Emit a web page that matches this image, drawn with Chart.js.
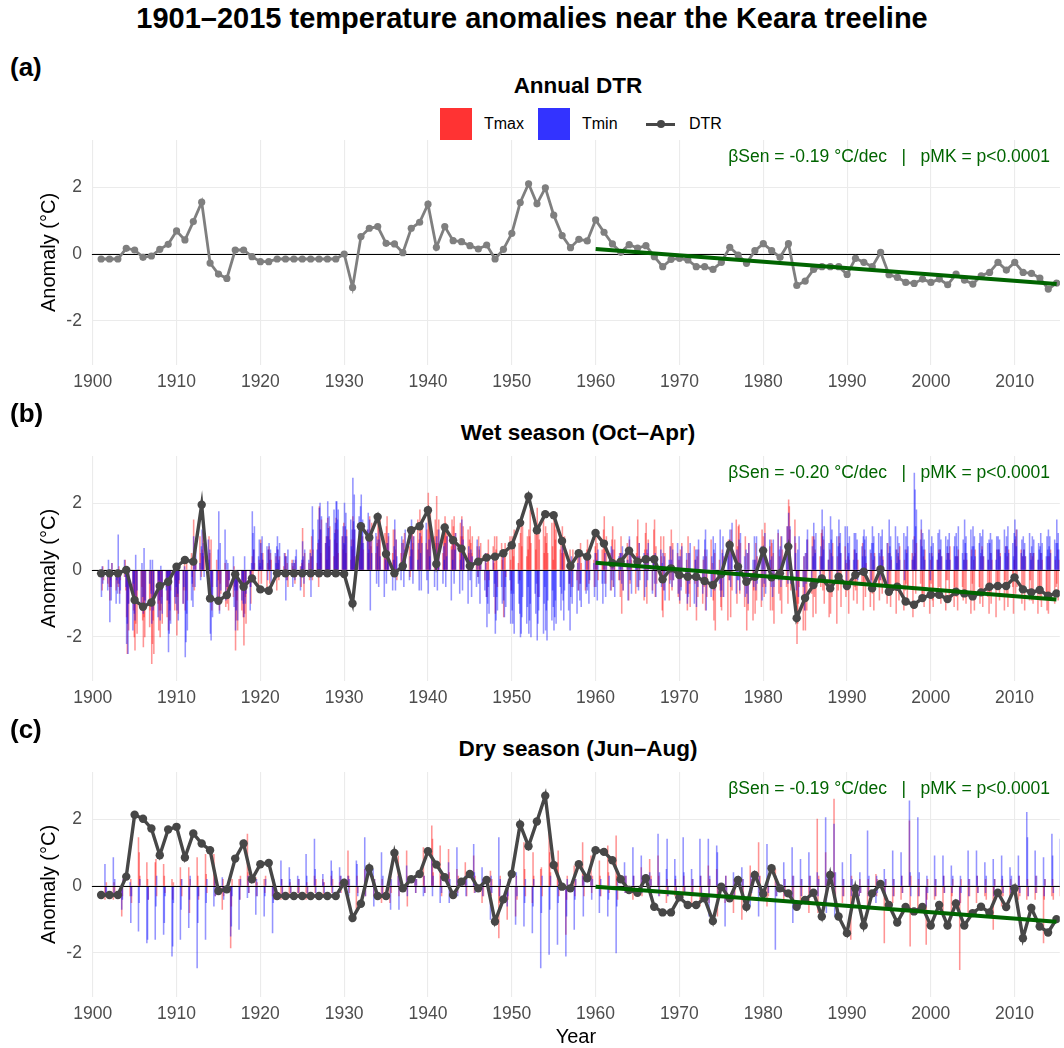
<!DOCTYPE html>
<html>
<head>
<meta charset="utf-8">
<script src="https://cdn.jsdelivr.net/npm/chart.js@4.4.1/dist/chart.umd.min.js"></script>
<style>
body { margin: 0; width: 1064px; height: 1048px; overflow: hidden; background: #fff; position: relative;
  font-family: "Liberation Sans", Arial, Helvetica, sans-serif; }
.t { position: absolute; white-space: nowrap; line-height: 1; color: #000; }
.c { transform: translateX(-50%); }
.b { font-weight: bold; }
canvas { position: absolute; left: 0; }
.key { position: absolute; }
</style>
</head>
<body>
<div class="t b c" style="left:532px;top:4px;font-size:29px">1901–2015 temperature anomalies near the Keara treeline</div>

<div class="t b" style="left:10px;top:54px;font-size:26px">(a)</div>
<div class="t b c" style="left:578px;top:75px;font-size:22.5px">Annual DTR</div>
<div class="key" style="left:440px;top:108px;width:32px;height:32px;background:#FF3333"></div>
<div class="t" style="left:484px;top:116px;font-size:16px">Tmax</div>
<div class="key" style="left:538px;top:108px;width:32px;height:32px;background:#3333FF"></div>
<div class="t" style="left:582px;top:116px;font-size:16px">Tmin</div>
<div class="key" style="left:646px;top:122.5px;width:29px;height:3px;background:#474747"></div>
<div class="key" style="left:656.5px;top:120px;width:8px;height:8px;border-radius:50%;background:#474747"></div>
<div class="t" style="left:689px;top:116px;font-size:16px">DTR</div>
<canvas id="chartA" width="1064" height="270" style="top:130px"></canvas>

<div class="t b" style="left:10px;top:400px;font-size:26px">(b)</div>
<div class="t b c" style="left:578px;top:422px;font-size:22.5px">Wet season (Oct–Apr)</div>
<canvas id="chartB" width="1064" height="270" style="top:446px"></canvas>

<div class="t b" style="left:10px;top:716px;font-size:26px">(c)</div>
<div class="t b c" style="left:578px;top:738px;font-size:22.5px">Dry season (Jun–Aug)</div>
<canvas id="chartC" width="1064" height="300" style="top:762px"></canvas>

<script>
// years of the record
const years = [1901,1902,1903,1904,1905,1906,1907,1908,1909,1910,
  1911,1912,1913,1914,1915,1916,1917,1918,1919,1920,
  1921,1922,1923,1924,1925,1926,1927,1928,1929,1930,
  1931,1932,1933,1934,1935,1936,1937,1938,1939,1940,
  1941,1942,1943,1944,1945,1946,1947,1948,1949,1950,
  1951,1952,1953,1954,1955,1956,1957,1958,1959,1960,
  1961,1962,1963,1964,1965,1966,1967,1968,1969,1970,
  1971,1972,1973,1974,1975,1976,1977,1978,1979,1980,
  1981,1982,1983,1984,1985,1986,1987,1988,1989,1990,
  1991,1992,1993,1994,1995,1996,1997,1998,1999,2000,
  2001,2002,2003,2004,2005,2006,2007,2008,2009,2010,
  2011,2012,2013,2014,2015];

const wetMonths = [1, 2, 3, 4, 10, 11, 12];
const dryMonths = [6, 7, 8];

const xTicks = [1900, 1910, 1920, 1930, 1940, 1950, 1960, 1970, 1980, 1990, 2000, 2010];
const yTicks = [-2, 0, 2];

// DTR anomalies (°C)
const annualDtr = [-.15,-.15,-.15,.17,.12,-.1,-.06,.14,.29,.69,
  .42,.97,1.55,-.27,-.6,-.73,.12,.12,-.08,-.23,
  -.23,-.15,-.15,-.15,-.15,-.15,-.15,-.15,-.15,0,
  -1,.52,.77,.82,.32,.3,.04,.77,.95,1.49,
  .2,.82,.4,.37,.25,.15,.27,-.15,.14,.62,
  1.54,2.1,1.5,1.98,1.16,.55,.19,.44,.39,1.02,
  .65,.3,.05,.28,.18,.25,-.08,-.38,-.16,-.13,
  -.18,-.38,-.38,-.46,-.25,.2,-.03,-.28,.1,.31,
  .1,-.1,.31,-.94,-.81,-.46,-.38,-.38,-.38,-.61,
  -.13,-.25,-.38,.05,-.62,-.7,-.85,-.88,-.75,-.85,
  -.75,-.92,-.6,-.78,-.9,-.65,-.55,-.25,-.48,-.25,
  -.55,-.58,-.72,-1.05,-.87];

const wetDtr = [-.1,-.1,-.1,0,-.9,-1.1,-.97,-.48,-.35,.1,
  .3,.25,1.95,-.85,-.92,-.75,-.13,-.5,-.25,-.58,
  -.62,-.1,-.1,-.1,-.1,-.1,-.1,-.1,-.1,-.12,
  -1,1.31,.97,1.59,.48,-.1,.12,1.19,1.31,1.79,
  .18,1.27,.89,.64,.12,.25,.37,.4,.5,.74,
  1.41,2.2,1.19,1.67,1.64,.87,.12,.5,.4,1.11,
  .79,.2,.25,.58,.25,.32,.32,-.28,.05,-.15,
  -.2,-.2,-.33,-.45,-.12,.75,.1,-.35,-.2,.58,
  -.22,-.1,.7,-1.44,-.84,-.45,-.25,-.55,-.2,-.48,
  -.15,-.05,-.55,.02,-.65,-.5,-.94,-1.04,-.84,-.74,
  -.74,-.87,-.65,-.7,-.79,-.67,-.5,-.48,-.48,-.22,
  -.58,-.67,-.6,-.77,-.7];

const dryDtr = [-.27,-.27,-.27,.28,2.13,2.01,1.72,.92,1.69,1.77,
  .85,1.57,1.27,1.07,-.15,-.1,.82,1.27,.2,.65,
  .69,-.3,-.3,-.3,-.3,-.3,-.3,-.3,-.3,.1,
  -.96,-.53,.53,-.3,-.3,.99,-.07,.2,.36,1.04,
  .64,.26,-.27,.13,.36,-.07,.18,-1.06,-.4,.36,
  1.84,1.19,1.93,2.7,.63,-.02,-.07,.65,.23,1.07,
  1.02,.77,.2,-.12,-.2,.23,-.62,-.79,-.79,-.34,
  -.57,-.57,-.37,-1.05,-.02,-.37,.18,-.62,.33,-.24,
  .53,-.07,-.22,-.62,-.42,-.2,-.91,.33,-.91,-1.41,
  -.07,-1.18,-.22,.06,-.57,-1.09,-.63,-.76,-.63,-1.18,
  -.57,-1.18,-.52,-1.18,-.81,-.62,-.79,-.2,-.63,-.07,
  -1.56,-.66,-1.21,-1.39,-.99];

// Sen slope trend lines, 1960-2015
const trendYears = [1960, 2015];
const annualTrend = [0.15, -0.90];
const wetTrend = [0.22, -0.88];
const dryTrend = [-0.02, -1.07];

const annualSen = 'βSen = -0.19 °C/dec   |   pMK = p<0.0001';
const wetSen = 'βSen = -0.20 °C/dec   |   pMK = p<0.0001';
const drySen = 'βSen = -0.19 °C/dec   |   pMK = p<0.0001';

// monthly anomalies, one row per year (months as in wetMonths / dryMonths)
const wetTmax = [
  [-.2,-.6,.1,-.3,-.4,-.1,-.5],[-.9,-.3,-.5,.2,-.6,-.2,-.4],[-.5,.1,-.7,-.3,-.2,.3,-.6],[-1.4,-2.5,-1,-1.8,-.6,-1.2,-2],[-2.4,-1.6,-.8,-1.9,-1.1,-.5,-1.5],[-2.3,-1.4,-2,-.9,-1.7,-1.2,-.6],[-2.8,-2.2,-1.5,-2.5,-1,-1.8,-1.2],[-2,-1.2,-.8,-1.6,-.5,-1.4,-.9],[-1.8,-1,-1.5,-.6,-1.2,-.3,-.8],[-1.95,-.8,-1.3,-.4,-1,-.6,.2],
  [-1.2,-.6,.3,-.9,.5,-.2,-.5],[1.5,-.6,.8,.3,1,.5,-.2],[.6,1.15,.4,.9,.2,1,.5],[-.8,.9,-1.2,-.5,.3,-1,-.3],[-.9,-1.2,-.4,-.7,.2,-1.1,-.5],[-1,-.6,-1.2,-.3,-.8,.1,-.5],[-2.4,-1.5,-.9,-1.8,-1.2,-.6,-1.4],[-2.25,-1.3,-.8,-1.6,-.5,-1,-.3],[.4,-.3,.6,.2,-.5,.3,.1],[.9,-.4,.3,.5,-.6,.2,.6],
  [.7,-.4,.5,.3,-.2,.4,-.6],[.6,.2,-.3,.4,.1,-.2,.5],[.4,-.3,.2,-.5,.3,.1,-.2],[.2,-.4,.3,-.2,.1,-.5,.2],[1.25,.3,-.8,.5,.2,-.3,.6],[.4,1,-.3,.6,.2,.8,-.5],[1.9,1.2,.5,1.5,.8,1,.3],[1.55,1,.7,1.3,.4,.9,1.2],[1.55,.8,1.2,.5,1,.6,1.4],[.75,1,.5,1.2,.3,.9,.6],
  [1.6,.9,1.2,.4,1,.7,1.3],[1.35,.8,1,.6,1.2,.5,.9],[1.6,1.2,.7,1.4,.5,1,.8],[1.6,1.3,.9,1.5,.6,1.1,.4],[1.3,1.6,.8,1,.5,1.2,.3],[1.2,.6,.9,-.3,.5,.8,.2],[.9,.5,1.1,.3,.7,-.2,.6],[1.3,1.2,.8,1,1.5,.6,.9],[1.8,1.3,1,1.5,.8,1.2,.6],[2.3,1.9,1.4,1.7,1,1.5,.8],
  [2.2,1.2,.8,1.5,.5,1,1.3],[1.6,1.4,1,1.2,.7,1.5,.9],[1.3,1.6,.8,1.1,.6,1.4,1],[1.6,1,1.3,.7,1.2,.5,.9],[1.3,.8,.5,1,.3,.7,-.2],[1,.6,.3,.8,-.3,.5,.2],[-.8,.5,.9,-.3,.7,.2,1],[-1.3,.6,1,-.5,.8,.3,.5],[-1.4,.5,.8,-.2,1,.3,-.6],[1,.6,.4,1.2,.2,.8,-.3],
  [1.1,1.5,.7,1.3,.4,1,.6],[1.2,1,1.8,.8,1.5,.6,1.1],[1.85,-.8,1.3,.9,1.5,.5,1],[1.3,.8,1.1,.5,1.4,.7,.3],[1.6,1.4,.9,1.2,.6,1,.5],[1.3,.8,.5,1,.3,-.4,.6],[.3,-.5,.2,.6,-.3,.4,-.6],[.5,-.4,.8,.2,-.6,.3,.6],[.9,.6,-.4,.5,.3,-.5,.7],[1,.5,.8,-.3,.6,.2,1.2],
  [1.6,.7,-.4,1,.5,-.6,.9],[1.3,-.5,.6,.9,-.3,.5,-.8],[1,-1.3,.5,-.6,.8,.3,-.9],[.9,-.4,.6,.3,-.7,.5,1],[1.5,-.5,.8,.4,-.9,.6,1.1],[1.4,-1,.5,.9,-.6,.3,1.2],[1.5,-.8,.7,-.4,1,.4,-1.2],[-1.4,1,-.6,.5,-.9,.7,-.3],[1.2,-.6,.8,-.3,.5,-.8,.3],[-1,.6,-.5,.8,-.7,.3,-1.2],
  [1,-.7,.5,-1.1,.7,-.4,.3],[-1.5,.4,-.8,.6,-1,.3,-.5],[.6,-1.2,.4,-.8,.9,-.5,.2],[-.9,-1.5,.5,-1.8,.3,-.6,-1.1],[-1.2,.6,-.8,.4,-1.5,.9,-.3],[.9,-1.4,1.2,-.6,1.5,-1,.7],[1.3,1.35,-.7,.8,-1.1,1,-.4],[-1.8,.5,-1.2,.8,-1.5,-.6,.3],[-1.3,.8,-.9,.4,-1.1,1.2,-.5],[1,-.8,1.4,-.5,.7,-1.2,.9],
  [.8,-1.2,.5,-1.6,1.1,-.7,.4],[-.9,1,-1.3,.6,-.5,1.3,-1],[2.1,1.9,1.2,-.6,1.5,.8,-1],[-2.2,-1.6,-1,-.5,-1.8,.4,-1.2],[-1.8,.5,-1.2,.9,-.7,1,-1.4],[1,-.8,.6,-1.3,.4,-.5,1.1],[1.2,-.6,.9,-1,.3,-1.4,.6],[-1.3,.5,-.8,.8,-1.6,.4,-.6],[1,-.4,.5,-1.1,.7,-.8,.2],[-.6,.4,-1.3,.3,-.9,.6,-.5],
  [-.6,.5,-1,.3,-.4,.8,-1.2],[-.4,.6,-.8,.2,-1.1,.5,-.3],[-.7,.3,-1.2,.5,-.5,-.9,.4],[-.3,.6,-.7,.4,-1,.8,-.5],[-.7,.5,-1.1,.3,-.6,-1.3,.6],[-.5,.4,-.9,.7,-1.2,.3,-.6],[-.4,.6,-1,-.5,.5,-1.4,.3],[1,.5,-.7,.8,-.4,1.2,-.9],[-.7,.4,-1.1,.6,-.5,-1.3,.3],[-.4,.5,-.9,-1.1,.3,-.6,.6],
  [-.5,.6,-1,.4,-1.2,-.3,.5],[-.3,.5,-.8,.7,-1.1,-.5,.4],[-.8,.4,-1.2,.6,-.5,-.9,.3],[-.6,.5,-1,.3,-1.3,.6,-.4],[-.8,.3,-1.2,.6,-.5,-1,.4],[-.6,.7,-1.1,.4,-.8,.3,-1.3],[-.7,.5,-1,.3,-1.4,.6,-.4],[-.4,.6,-.9,.5,-1.2,-.3,.7],[-.8,.4,-1.1,.6,-.5,-1.3,.3],[.9,-.7,1.2,-.5,.6,-1,.4],
  [-.5,.6,-1.2,.4,-.9,-.3,.5],[-.9,.4,-1,.5,-1.3,.3,-.6],[-.9,.5,-1.1,.3,-.7,-1.2,.4],[-1.3,.4,-.8,.6,-1,.3,-.5],[-.4,.6,-.9,.3,-1.1,.5,-.6]
];

const wetTmin = [
  [-.8,.1,-.4,-.2,-.6,.3,-.1],[-1.55,-.5,-.9,.2,-1,-.3,-.7],[1.05,-.4,-1,-.6,.3,-.2,-.5],[-2.2,-1.6,-2.5,-1,-1.8,-.4,-1.3],[-1.5,.45,-1,-.6,-1.2,.2,-.8],[-1.3,.65,-.9,-1.1,-.4,.3,-.7],[-1.6,.3,-1.2,-.8,-1.4,-.3,-.9],[-1.5,.12,-1,-1.3,-.6,-.9,-.4],[-2.45,-1.9,-1.2,-1.6,-.8,-1,-.5],[-1.2,-.7,-1.5,-.3,-1,-.5,.1],
  [-2.6,-2.15,-1.3,-1.8,-.9,-.4,-1.1],[1,.4,-.5,.6,.2,-.3,.7],[1.2,.5,.8,-.2,.9,.3,.6],[-1.9,-2.1,-.8,-1.4,-.5,-1,.6],[1.75,-1.3,.8,-.6,1.2,-.9,.3],[-.5,.2,-.8,-.3,.4,-1.1,-.6],[-1.8,-1.2,-.6,-1.5,-.9,-.3,-1],[-1.4,.4,-1,-.7,-1.2,-.5,.2],[1.75,1.1,.6,1.3,.4,.9,.2],[.8,.5,1,.3,.7,-.3,.6],
  [.8,.3,.6,-.4,.5,.2,.7],[1,.6,.3,.8,-.2,.5,.4],[-.9,.4,-.3,.6,.2,-.5,.3],[.2,-.3,.4,.6,-.6,.1,.3],[.85,.4,-.4,.6,.3,-.2,.5],[-.8,.4,1.9,1.2,.6,1.5,.9],[1.85,2,1.2,1.6,.8,1.4,1],[2.05,1.25,1.6,.9,1.8,1.1,1.4],[2.05,2.05,1.5,1.8,1,1.3,.8],[2,1.3,1.7,1,1.5,.7,1.2],
  [2.75,1.45,2.25,1.2,1.6,.9,1.9],[2.25,1.4,1.5,.8,1.2,1.7,.6],[1.5,-1.2,.9,.5,1.1,-.4,.7],[.9,-.5,1.2,.4,-.8,.6,.3],[-.4,.8,.5,1.1,-.6,.3,.7],[1.5,-.6,.9,.4,-.3,1,.2],[.8,-.5,.6,1.2,-.3,.4,.9],[1.5,.6,-.4,1,.3,.8,-.6],[1.1,.5,-.6,.8,1.4,-.3,.6],[-.7,.9,.4,1.3,-.5,.6,.2],
  [1,-.6,.5,1.2,-.4,.7,.3],[.8,-.5,.4,1,-.9,.6,.3],[.8,-.4,.6,1.1,-.7,.3,.5],[1.5,-.6,.9,.4,-1,.7,.3],[-.3,.6,-.8,.4,-.5,.9,-.2],[-.4,.7,-1,.3,-.6,.5,-.8],[-1.7,-1,-.5,-1.3,.3,-.8,-.4],[-1.9,-1.5,-.8,-1.2,-.5,-1,.4],[-.9,-1.4,-.5,-1.1,-.3,-1.6,-.7],[-1.2,-1.6,-.7,-1.9,-.4,-1,-1.3],
  [-2,-1.9,-1.4,-.8,-1.6,-1.1,-.5],[-1.9,-1.5,-1,-2,-.7,-1.3,-.4],[-2.1,-1.6,-1.2,-.8,-1.9,-1,-.5],[-1.8,-1.2,-2.1,-.9,-1.5,-.6,-1.1],[-1.8,-1.4,-.9,-1.6,-.5,-1.2,-.7],[.7,-.9,-1.5,-.6,-1.2,-.4,-1.8],[-.8,.4,-1,-.5,-1.3,.2,-.6],[.5,-.9,-.4,-1.1,.3,-.7,-.5],[-.6,.4,-1,-.3,.2,-.8,.5],[-.5,.3,-.9,.6,-.4,-1,.2],
  [-.4,.5,-.8,.2,-.6,.7,-.3],[.6,-.5,.3,-.8,.4,-.3,.5],[.5,-.4,.7,-.6,.3,-.9,.2],[1,-.3,.6,-.7,.4,.2,-.5],[.4,-.6,.8,-.3,.5,-.8,.2],[-.5,.6,-.3,.8,-.7,.4,.3],[-.4,.5,-.8,.3,.6,-.5,.2],[.5,-.6,.4,-.9,.3,-.4,.7],[.3,-.5,.6,-.3,.8,-.7,.4],[-.9,.4,-.6,.7,-.3,.5,-1],
  [-.8,.5,-.4,.8,-1,.3,.6],[-1.1,.6,-.5,.9,-.7,.4,-.3],[.9,1.2,-1.2,.6,-.8,.4,-.5],[1,.6,-.6,.8,-.4,1.2,-.8],[-.6,.5,1,-.8,.4,.7,-.3],[1.2,-.5,.8,1.4,-.7,.6,-.3],[-.3,.9,-.6,1.1,.4,-.8,.6],[-.7,.5,-1,.8,.3,-.5,1],[.3,-.6,1,-.4,.7,-.9,.5],[.6,-.4,1.1,-.7,.9,.3,-.5],
  [.4,-.8,.9,-.5,1.2,-.3,.6],[.7,-.5,1,-.3,.6,1.3,-.4],[1.7,.8,1.3,-.4,1,.5,-.6],[-.3,.6,-.8,1,-.5,.4,-1.2],[.5,-.4,.9,1.2,-.3,.7,.4],[1.4,.9,.5,1.1,-.3,.7,.4],[1.8,1,.6,1.3,.3,.8,-.4],[1.6,.9,1.2,.4,1,-.3,.7],[1.5,.8,1.1,.5,1.3,.3,-.5],[1.3,.8,.5,1,.3,1.1,.6],
  [1.1,.5,.9,-.3,.7,.4,1],[1.2,.9,.4,1,.6,-.4,.8],[1.3,.8,1,.4,1.1,.5,-.3],[1,.6,1.2,.3,.8,-.4,.5],[1.5,.7,1,.4,1.3,.6,.2],[1,.5,.8,.3,1.1,-.3,.6],[1,.5,1.3,.7,.3,.9,.4],[2.9,2.4,1.3,1.8,.9,1.5,.7],[1.1,.6,.9,.3,1.2,.5,-.3],[.7,1,.4,.8,.3,1.1,.5],
  [1.2,.6,.9,.4,1,.3,.7],[.9,.5,1.1,.3,.7,1,.4],[1.1,.7,.4,1.3,.5,.9,.3],[1.5,.8,1,.5,1.2,.4,.7],[1.3,.7,1,.4,.8,1.1,.5],[1,.6,1.2,.4,.8,.3,.9],[.8,1.1,.5,.9,.3,1,.6],[1,.6,.9,.4,1.2,.5,.7],[1,.7,1.3,.5,.8,.4,1.1],[1.5,1,.7,1.2,.5,.9,.4],
  [1,.6,.8,.4,1.1,.5,.3],[.7,1,.5,.9,.3,.8,.6],[.7,1.1,.5,.8,.4,1,.6],[1.2,.7,1,.5,.9,.4,.8],[1.5,.8,1.1,.6,1.3,.5,.9]
];

const dryTmax = [
  [-.4,-.2,.1],[-.4,.1,-.3],[-.9,-.3,.2],[-.3,.2,-.5],[1.45,1,.3],[.7,.2,-.4],[.7,.8,-.3],[.65,.3,-.2],[.2,-.4,.1],[.55,.2,-.3],
  [.55,-.8,.2],[.85,.3,-.4],[.95,.35,-.2],[.95,.4,-.3],[-.7,.2,-.3],[-1.85,-.6,.2],[.2,-.4,.3],[1.55,.4,-.2],[.25,-.3,.1],[.2,-.2,.3],
  [-.3,.2,-.4],[-.4,.2,-.3],[-.3,.1,-.2],[-.2,.2,-.3],[-.4,.1,-.2],[.3,-.2,.2],[.2,-.3,.1],[.3,-.2,.2],[.1,.3,-.2],[1.05,.3,-.2],
  [-.7,.3,-.2],[.5,-.3,.2],[.3,-.3,.2],[-.5,.2,-.3],[-.5,.3,-.2],[.9,-.3,.2],[1.05,-.6,.3],[.3,-.2,.2],[1.15,.3,-.2],[1.8,1.4,.4],
  [1.2,.3,-.3],[1.1,.4,-.2],[.5,-.2,.3],[.7,.2,-.3],[.9,-.2,.3],[-.5,.2,-.3],[.45,-.3,.2],[-1.55,-.5,.3],[-1,-.4,.2],[-.9,.3,-.4],
  [1.3,.5,-.3],[-.5,1,.3],[.5,.55,-.3],[2,1,.4],[.7,1.05,-.3],[-1.45,-.4,.3],[.6,-.3,.2],[1.3,.4,-.3],[.9,-.2,.3],[.75,.3,-.3],
  [1.2,.4,-.2],[1.5,.3,-.4],[.3,-.2,.3],[-.4,.3,-.2],[.55,-.3,.2],[.8,-.2,.3],[.9,.3,-.3],[-.5,.2,-.3],[-.3,.2,-.4],[-.3,.3,-.2],
  [-.6,.2,-.3],[-.6,.3,-.2],[.6,-.5,.2],[.5,-.9,-.3],[-.5,.3,-.2],[-.8,.2,-.3],[-1,.2,-.4],[.6,-.3,.2],[1.3,-.2,.3],[-.6,.2,-.3],
  [.5,-.3,.2],[-.4,.2,-.3],[-.3,.3,-.5],[-.5,.2,-.3],[-.8,.3,-.2],[2,-.8,.3],[1,-.3,.2],[2.6,.4,-.3],[-.5,.2,-.3],[-1.6,.3,-.4],
  [-.3,.2,-.2],[-.7,.2,-.3],[.35,-.3,.2],[-1.7,-.4,.2],[-.5,.2,-.3],[-.4,.3,-.2],[1.95,-1.8,.3],[-.8,.2,-.3],[-1.75,-.4,.2],[-.4,.2,-.3],
  [-.8,.3,-.2],[-.8,-.3,.2],[-2.5,-.5,.2],[-.9,.2,-.3],[-.5,.3,-.2],[-.3,.2,-.4],[-1.3,-.3,.2],[-.6,.2,-.3],[-.3,.2,-.2],[-.4,.3,-.3],
  [-.4,.2,-.3],[-.4,.3,-.2],[-1.7,-.4,.2],[-.3,.2,-.4],[-.3,.2,-.2]
];

const dryTmin = [
  [.65,-.2,-.3],[.85,-.3,.2],[-.7,-.4,.2],[.1,-1.1,-.3],[-1.35,-.5,.2],[-1.7,-1.6,-.4],[-1.6,-.6,.3],[-1.45,-1.1,-.3],[-2.1,-1.8,-.5],[-1.6,-.7,.2],
  [-1.25,-.4,.3],[-2.45,-1.1,-.3],[-1.6,-.5,.2],[-.6,.25,-.3],[.25,-.1,-.4],[-1.5,-1.2,-.3],[-1.3,-.4,.2],[-.35,.3,-.2],[-.85,.2,-.3],[-.9,-.3,.2],
  [-1.4,-.5,.2],[.75,.2,-.3],[.55,.2,-.2],[.3,-.2,.2],[.95,.3,-.2],[1.4,.5,-.2],[.35,.1,-.2],[.75,.45,-.2],[.55,-.2,.3],[.3,-.3,.2],
  [.75,.65,-.3],[1.45,-.3,.5],[.5,-.6,.2],[1,-.3,.3],[.4,-.7,.2],[.3,-.7,.2],[.6,-.3,.2],[.3,-.2,.2],[-.3,.3,-.2],[.9,-.3,.3],
  [-.5,.3,-.2],[.7,-.5,.2],[1.15,-.3,.2],[.3,-.3,.2],[1.25,.4,-.2],[.55,-.3,.2],[-1,.3,-.2],[1.45,-.3,.2],[-.6,-.3,.2],[-1.15,.4,-.3],
  [-1.2,-.5,.2],[-1.4,-.6,.2],[-2.45,-.8,.3],[-2.05,-.7,.3],[-1.75,-.5,.2],[-2.1,-.9,.2],[-1.3,-.4,.2],[.3,-.9,.2],[.3,-.4,.2],[-.8,-.3,.2],
  [-.9,-.4,.3],[-2,-.6,.2],[.7,-.2,.3],[1.15,.3,-.2],[.9,-.2,.3],[.4,-.3,.2],[1.55,-.3,.4],[.5,1.4,-.3],[.8,.3,-.2],[1.45,.4,-.2],
  [.5,-.3,.2],[1.4,.3,-.2],[1.4,-.9,.3],[1.2,1,-.3],[-1.2,.3,-.2],[.4,-.3,.2],[.55,-.3,.2],[-.6,.3,-.2],[-.9,.3,-.2],[1.25,.3,-.2],
  [-1.9,.3,-.3],[.7,-.3,.2],[1.15,-1.1,.3],[.8,-.3,.2],[1,-.3,.3],[.4,-.3,.2],[2.05,-.8,.3],[1.85,-.9,.4],[.7,-.3,.2],[.95,-.3,.2],
  [-.3,.4,-.2],[1.65,-.3,.3],[-.5,.3,-.2],[.5,-.3,.2],[1.05,-.3,.2],[1,.3,-.2],[2.55,.4,-.3],[2.05,-.3,.4],[-.6,.3,-.2],[.9,-.3,.2],
  [.9,.3,-.2],[.6,-.2,.3],[-.5,.3,-.2],[1.05,-.3,.2],[1.05,.3,-.2],[.7,-.2,.3],[.8,-.3,.2],[.9,.3,-.2],[.55,-.2,.3],[.9,.3,-.2],
  [2.2,1.45,-.3],[1.05,-.2,.3],[.85,-.3,.2],[1.55,.9,-.2],[1.4,.3,-.2]
];

const FONT = '"Liberation Sans", Arial, Helvetica, sans-serif';
Chart.defaults.font.family = FONT;

function points(xs, ys) {
  return ys.map((v, i) => ({ x: xs[i], y: v }));
}
function monthBars(rows, months) {
  const out = [];
  rows.forEach((row, i) => row.forEach((v, j) => out.push({ x: years[i] + (months[j] - 0.5) / 12, y: v })));
  return out;
}

function drawZero(chart) {
  const { ctx, chartArea, scales } = chart;
  const y = Math.round(scales.y.getPixelForValue(0)) + 0.5;
  ctx.save();
  ctx.strokeStyle = '#000';
  ctx.lineWidth = 1.1;
  ctx.beginPath();
  ctx.moveTo(chartArea.left, y);
  ctx.lineTo(chartArea.right, y);
  ctx.stroke();
  ctx.restore();
}

const zeroLine = {
  id: 'zeroLine',
  beforeDatasetsDraw(chart, args, opts) { if (opts.after === -1) drawZero(chart); },
  afterDatasetDraw(chart, args, opts) { if (opts.after === args.index) drawZero(chart); }
};

const senLabel = {
  id: 'senLabel',
  afterDraw(chart, args, opts) {
    const { ctx, scales } = chart;
    ctx.save();
    ctx.fillStyle = '#006400';
    ctx.font = '17.5px ' + FONT;
    ctx.textAlign = 'right';
    ctx.textBaseline = 'middle';
    ctx.fillText(opts.text, 1050, scales.y.getPixelForValue(2.9));
    ctx.restore();
  }
};

function makePanel(id, cfg) {
  const datasets = [
    { type: 'line', label: 'Sen trend', data: points(trendYears, cfg.trend), borderColor: '#006400',
      borderWidth: 4, pointRadius: 0, order: 0 },
    { type: 'line', label: 'DTR', data: points(years, cfg.dtr), borderColor: cfg.lineColor,
      backgroundColor: cfg.lineColor, borderWidth: cfg.lineWidth, pointRadius: cfg.pointRadius,
      pointBorderWidth: 0, tension: 0, order: 1 }
  ];
  if (cfg.tmin) {
    datasets.push({ type: 'bar', label: 'Tmin', data: monthBars(cfg.tmin, cfg.months),
      backgroundColor: 'rgba(0,0,255,0.42)', barThickness: 0.9, grouped: false, order: 2 });
    datasets.push({ type: 'bar', label: 'Tmax', data: monthBars(cfg.tmax, cfg.months),
      backgroundColor: 'rgba(255,0,0,0.42)', barThickness: 0.9, grouped: false, order: 3 });
  }
  const tickFont = { size: 17.5, family: FONT };
  new Chart(document.getElementById(id), {
    type: 'bar',
    data: { datasets },
    plugins: [zeroLine, senLabel],
    options: {
      responsive: false,
      animation: false,
      devicePixelRatio: 1,
      layout: { padding: { top: 10, left: 0, right: 0, bottom: 0 } },
      plugins: {
        legend: { display: false },
        tooltip: { enabled: false },
        zeroLine: { after: cfg.tmin ? 2 : -1 },
        senLabel: { text: cfg.sen }
      },
      scales: {
        x: {
          type: 'linear', min: 1899.9, max: 2015.4, offset: false,
          afterBuildTicks: s => { s.ticks = xTicks.map(v => ({ value: v })); },
          afterFit: s => { s.height = cfg.axisHeight; s.paddingLeft = 0; s.paddingRight = 0; },
          grid: { color: '#EBEBEB', lineWidth: 1.1, drawTicks: false, offset: false },
          border: { display: false },
          ticks: { padding: 7, color: '#4D4D4D', font: tickFont, maxRotation: 0, autoSkip: false,
            callback: v => String(v) },
          title: cfg.xTitle ? { display: true, text: cfg.xTitle, color: '#000',
            font: { size: 20, family: FONT }, padding: { top: 0, bottom: 13 } } : { display: false }
        },
        y: {
          min: -3.32, max: 3.41,
          afterBuildTicks: s => { s.ticks = yTicks.map(v => ({ value: v })); },
          afterFit: s => { s.width = 91.9; s.paddingTop = 0; s.paddingBottom = 0; },
          grid: { color: '#EBEBEB', lineWidth: 1.1, drawTicks: false },
          border: { display: false },
          ticks: { padding: 10, color: '#4D4D4D', font: tickFont, callback: v => String(v) },
          title: { display: true, text: 'Anomaly (°C)', color: '#000',
            font: { size: 20, family: FONT }, padding: { top: 37, bottom: 0 } }
        }
      }
    }
  });
}

makePanel('chartA', { dtr: annualDtr, trend: annualTrend, sen: annualSen, lineColor: '#7F7F7F',
  lineWidth: 2.8, pointRadius: 3.6, axisHeight: 35 });
makePanel('chartB', { dtr: wetDtr, trend: wetTrend, sen: wetSen, lineColor: '#474747',
  lineWidth: 3.4, pointRadius: 4.2, tmax: wetTmax, tmin: wetTmin, months: wetMonths, axisHeight: 35 });
makePanel('chartC', { dtr: dryDtr, trend: dryTrend, sen: drySen, lineColor: '#474747',
  lineWidth: 3.4, pointRadius: 4.2, tmax: dryTmax, tmin: dryTmin, months: dryMonths, axisHeight: 65,
  xTitle: 'Year' });
</script>
</body>
</html>
